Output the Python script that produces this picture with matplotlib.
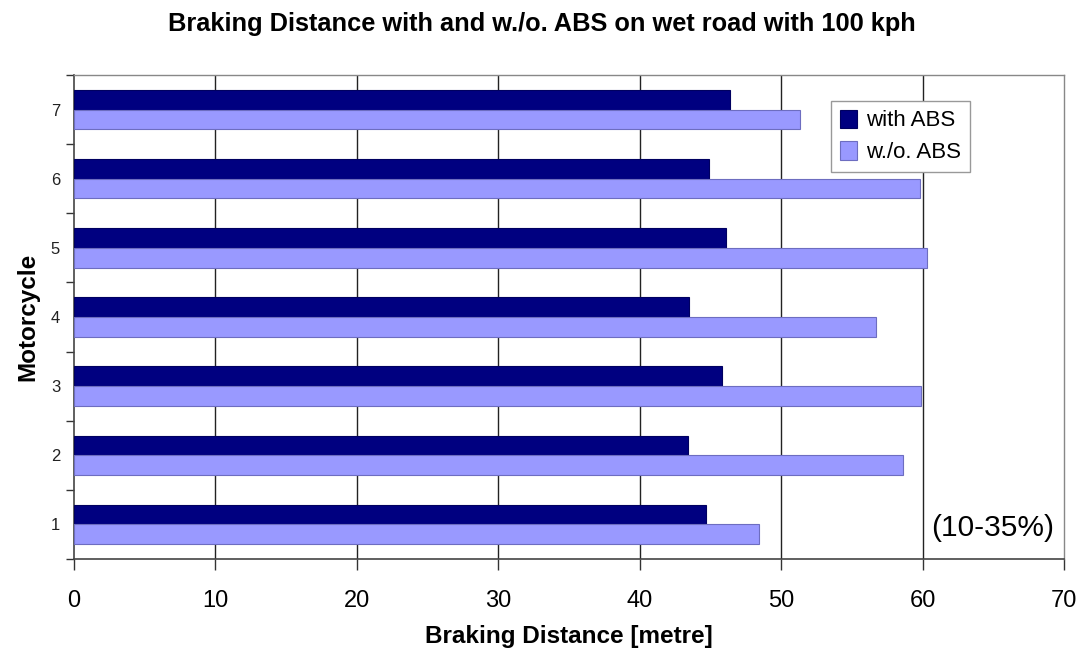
import matplotlib
matplotlib.use("Agg")
import matplotlib.pyplot as plt
import numpy as np

plt.rcParams['font.family'] = ['Liberation Sans', 'DejaVu Sans']

motorcycles = [1, 2, 3, 4, 5, 6, 7]
with_abs = [44.7, 43.4, 45.8, 43.5, 46.1, 44.9, 46.4]
without_abs = [48.4, 58.6, 59.9, 56.7, 60.3, 59.8, 51.35]
xticks = [0, 10, 20, 30, 40, 50, 60, 70]

fig = plt.figure(figsize=(10.77, 6.54), dpi=100)
ax = fig.add_axes([0.0687, 0.1453, 0.9193, 0.74])

y = np.array(motorcycles, dtype=float)
h = 0.285
ax.barh(y + h / 2, with_abs, height=h, color='#000080', edgecolor='#000060',
        linewidth=0.8, label='with ABS', zorder=3)
ax.barh(y - h / 2, without_abs, height=h, color='#9999FF', edgecolor='#6d6dc0',
        linewidth=0.8, label='w./o. ABS', zorder=3)

ax.set_xlim(0, 70)
ax.set_ylim(0.5, 7.5)
ax.set_xticks(xticks)
ax.set_xticklabels([str(v) for v in xticks], fontsize=17)
ax.set_yticks(motorcycles)
ax.set_yticklabels([str(v) for v in motorcycles], fontsize=12, color='#222222')
ax.set_yticks(np.arange(0.5, 7.6, 1.0), minor=True)
ax.tick_params(axis='y', which='major', length=0, pad=10)
ax.tick_params(axis='y', which='minor', length=6, width=1, color='#333333', direction='out')
ax.tick_params(axis='x', which='major', length=8, width=1, color='#333333', direction='out', pad=14)

for v in xticks[1:-1]:
    ax.axvline(v, color='#222222', linewidth=1, zorder=1)

for side in ['left', 'bottom']:
    ax.spines[side].set_color('#444444')
    ax.spines[side].set_linewidth(1.2)
for side in ['right', 'top']:
    ax.spines[side].set_color('#888888')
    ax.spines[side].set_linewidth(1)

ax.set_xlabel('Braking Distance [metre]', fontsize=17.5, fontweight='bold', labelpad=10)
ax.set_ylabel('Motorcycle', fontsize=17.5, fontweight='bold', labelpad=8)
fig.suptitle('Braking Distance with and w./o. ABS on wet road with 100 kph',
             fontsize=18.3, fontweight='bold', x=0.503, y=0.982)

leg = ax.legend(loc='upper left', bbox_to_anchor=(0.765, 0.947), fontsize=16,
                frameon=True, fancybox=False, edgecolor='#999999', framealpha=1,
                handlelength=0.75, handleheight=0.9, handletextpad=0.4,
                borderpad=0.4, labelspacing=0.45, borderaxespad=0)
leg.get_frame().set_linewidth(1)

ax.text(0.928, 0.064, '(10-35%)', transform=ax.transAxes, fontsize=21.5,
        ha='center', va='center')

fig.savefig('out.png', dpi=100)
